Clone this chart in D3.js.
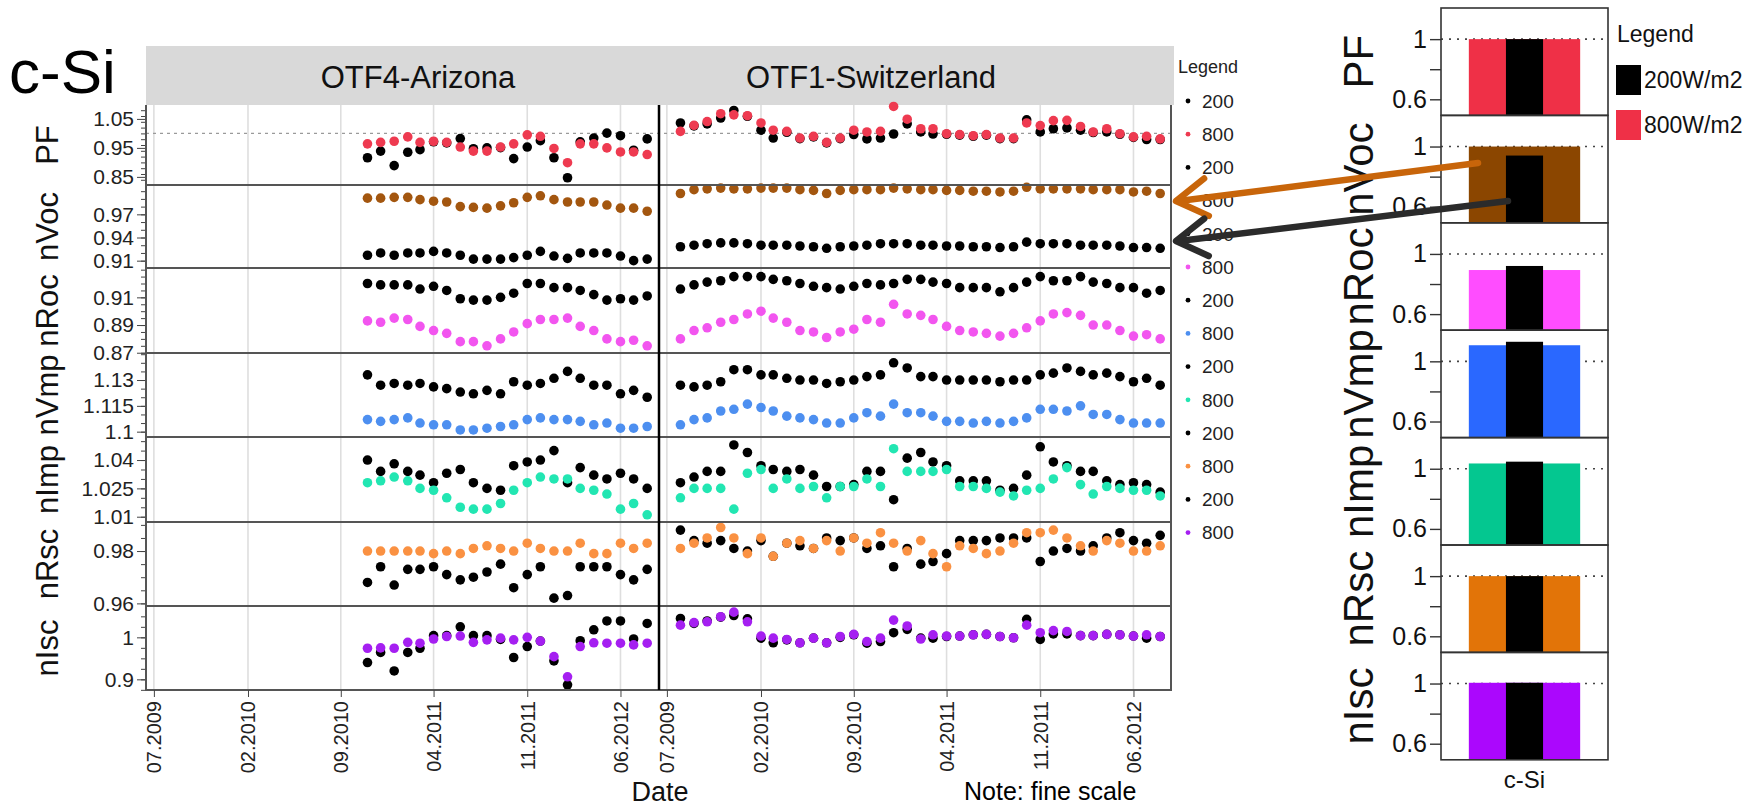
<!DOCTYPE html>
<html>
<head>
<meta charset="utf-8">
<script src="https://cdn.jsdelivr.net/npm/d3@7"></script>
<style>
body { margin: 0; background: #fff; }
text { font-family: "Liberation Sans", Arial, sans-serif; }
</style>
</head>
<body>
<svg id="chart" width="1756" height="808"></svg>
<script>
// ---------- data ----------
var rowNames = ["PF", "nVoc", "nRoc", "nVmp", "nImp", "nRsc", "nIsc"];
var dotColors = ["#ee3a50", "#a3560f", "#f255ef", "#4d8ff0", "#22e6b2", "#fa9142", "#a51ff1"];
var barColors = ["#ef3047", "#8b4600", "#ff4dff", "#2a68ff", "#04c790", "#e27408", "#ab07fd"];
var yDomains = [[0.822, 1.098], [0.9005, 1.008], [0.8698, 0.9312], [1.0969, 1.1457], [1.0072, 1.0522], [0.959, 0.9911], [0.8746, 1.0746]];
var yTicks = [[0.85, 0.95, 1.05], [0.91, 0.94, 0.97], [0.87, 0.89, 0.91], [1.1, 1.115, 1.13], [1.01, 1.025, 1.04], [0.96, 0.98], [0.9, 1]];
var yMinorStep = [0.02, 0.01, 0.005, 0.005, 0.005, 0.005, 0.025];
var sites = ["OTF4-Arizona", "OTF1-Switzerland"];
var dateTicks = ["07.2009", "02.2010", "09.2010", "04.2011", "11.2011", "06.2012"];
var azFirst = "2010-11", azStop = "2012-09";   // monthly points, stop exclusive
var chFirst = "2009-08", chStop = "2012-09";
var legendLabels = ["200", "800", "200", "800", "200", "800", "200", "800", "200", "800", "200", "800", "200", "800"];

var pf200AZ = [0.916,0.939,0.889,0.935,0.944,0.971,0.967,0.982,0.947,0.950,0.951,0.913,0.953,0.975,0.916,0.847,0.971,0.984,1.001,0.992,0.942,0.981];
var pf800AZ = [0.964,0.969,0.973,0.988,0.969,0.973,0.969,0.953,0.939,0.939,0.953,0.964,0.995,0.990,0.948,0.899,0.964,0.964,0.950,0.936,0.936,0.927];
var pf200CH = [1.036,1.026,1.033,1.053,1.079,1.059,1.011,0.984,1.004,0.982,0.988,0.967,0.982,0.996,0.981,0.984,0.998,1.033,1.005,0.998,0.997,0.994,0.990,0.994,0.982,0.982,1.047,1.005,1.016,1.019,1.011,1.003,1.005,0.997,0.986,0.979,0.979];
var pf800CH = [1.007,1.028,1.041,1.068,1.064,1.061,1.036,1.011,1.007,0.984,0.990,0.969,0.984,1.011,1.005,1.007,1.093,1.049,1.016,1.016,0.999,0.996,0.992,0.996,0.984,0.984,1.036,1.027,1.044,1.045,1.024,1.005,1.016,0.999,0.988,0.990,0.981];

var voc200AZ = [0.917,0.920,0.917,0.920,0.920,0.922,0.920,0.917,0.912,0.912,0.912,0.914,0.917,0.922,0.916,0.913,0.920,0.920,0.920,0.916,0.910,0.912];
var voc800AZ = [0.991,0.991,0.992,0.992,0.989,0.987,0.986,0.980,0.979,0.978,0.981,0.985,0.992,0.994,0.989,0.986,0.986,0.986,0.982,0.978,0.978,0.974];
var voc200CH = [0.928,0.930,0.932,0.933,0.933,0.932,0.930,0.930,0.930,0.929,0.928,0.926,0.928,0.929,0.930,0.932,0.932,0.932,0.930,0.930,0.929,0.929,0.928,0.928,0.927,0.928,0.934,0.932,0.932,0.932,0.930,0.930,0.930,0.929,0.927,0.927,0.926];
var voc800CH = [0.997,1.002,1.003,1.004,1.003,1.003,1.004,1.004,1.004,1.002,1.001,0.997,1.001,1.002,1.002,1.002,1.004,1.003,1.002,1.002,1.001,1.001,1.000,1.000,0.999,1.000,1.005,1.003,1.003,1.003,1.003,1.002,1.002,1.002,0.999,1.000,0.997];

var roc200AZ = [0.920,0.919,0.919,0.919,0.916,0.918,0.915,0.909,0.908,0.908,0.910,0.913,0.920,0.920,0.917,0.917,0.915,0.912,0.908,0.909,0.908,0.911];
var roc800AZ = [0.893,0.892,0.895,0.894,0.889,0.886,0.884,0.878,0.878,0.875,0.880,0.885,0.891,0.894,0.894,0.895,0.889,0.886,0.880,0.878,0.879,0.875];
var roc200CH = [0.916,0.919,0.921,0.922,0.925,0.925,0.925,0.923,0.922,0.920,0.918,0.917,0.916,0.918,0.920,0.919,0.920,0.923,0.923,0.921,0.920,0.917,0.917,0.917,0.914,0.917,0.921,0.925,0.922,0.922,0.925,0.921,0.920,0.917,0.917,0.913,0.915];
var roc800CH = [0.880,0.886,0.888,0.892,0.894,0.898,0.900,0.895,0.892,0.886,0.885,0.881,0.885,0.887,0.894,0.892,0.905,0.898,0.897,0.894,0.889,0.886,0.885,0.884,0.882,0.884,0.888,0.893,0.898,0.899,0.897,0.890,0.890,0.886,0.882,0.883,0.880];

var vmp200AZ = [1.133,1.127,1.128,1.127,1.128,1.126,1.125,1.123,1.122,1.124,1.122,1.129,1.127,1.128,1.131,1.135,1.131,1.127,1.127,1.122,1.124,1.120];
var vmp800AZ = [1.107,1.106,1.107,1.108,1.105,1.104,1.104,1.101,1.101,1.102,1.103,1.104,1.107,1.108,1.107,1.107,1.106,1.104,1.105,1.102,1.102,1.103];
var vmp200CH = [1.127,1.126,1.127,1.129,1.136,1.136,1.133,1.133,1.131,1.130,1.130,1.128,1.129,1.130,1.132,1.133,1.140,1.137,1.132,1.132,1.130,1.130,1.130,1.130,1.129,1.130,1.130,1.133,1.134,1.137,1.135,1.133,1.134,1.132,1.129,1.131,1.127];
var vmp800CH = [1.104,1.107,1.108,1.112,1.113,1.116,1.114,1.112,1.109,1.108,1.107,1.105,1.105,1.108,1.111,1.109,1.116,1.111,1.111,1.109,1.106,1.106,1.105,1.106,1.105,1.106,1.108,1.113,1.113,1.112,1.115,1.110,1.110,1.107,1.105,1.105,1.105];

var imp200AZ = [1.040,1.034,1.038,1.034,1.032,1.028,1.033,1.035,1.028,1.025,1.024,1.037,1.039,1.040,1.045,1.028,1.036,1.032,1.030,1.033,1.030,1.025];
var imp800AZ = [1.028,1.029,1.031,1.029,1.025,1.024,1.020,1.015,1.014,1.014,1.017,1.024,1.028,1.031,1.030,1.030,1.025,1.024,1.022,1.014,1.017,1.011];
var imp200CH = [1.028,1.031,1.034,1.034,1.048,1.044,1.037,1.035,1.034,1.035,1.032,1.026,1.026,1.027,1.034,1.034,1.019,1.041,1.044,1.039,1.037,1.029,1.029,1.029,1.024,1.025,1.032,1.047,1.039,1.037,1.034,1.034,1.029,1.027,1.028,1.027,1.023];
var imp800CH = [1.020,1.025,1.025,1.025,1.014,1.033,1.035,1.025,1.030,1.025,1.026,1.020,1.026,1.026,1.030,1.026,1.046,1.034,1.034,1.034,1.035,1.026,1.026,1.025,1.023,1.021,1.024,1.025,1.030,1.036,1.027,1.022,1.026,1.025,1.024,1.024,1.021];

var rsc200AZ = [0.968,0.974,0.967,0.973,0.973,0.974,0.971,0.969,0.970,0.972,0.975,0.966,0.971,0.974,0.962,0.963,0.974,0.974,0.974,0.971,0.969,0.973];
var rsc800AZ = [0.980,0.980,0.980,0.980,0.980,0.979,0.980,0.979,0.981,0.982,0.981,0.980,0.983,0.981,0.980,0.980,0.983,0.979,0.979,0.983,0.981,0.983];
var rsc200CH = [0.988,0.984,0.983,0.984,0.981,0.980,0.984,0.978,0.983,0.982,0.981,0.985,0.984,0.985,0.981,0.982,0.974,0.981,0.975,0.976,0.979,0.984,0.984,0.984,0.985,0.985,0.985,0.976,0.980,0.981,0.980,0.982,0.985,0.987,0.984,0.983,0.986];
var rsc800CH = [0.981,0.983,0.985,0.989,0.985,0.979,0.985,0.978,0.983,0.984,0.981,0.984,0.980,0.985,0.983,0.987,0.983,0.980,0.984,0.979,0.974,0.982,0.981,0.979,0.980,0.983,0.987,0.987,0.988,0.985,0.982,0.980,0.984,0.983,0.980,0.980,0.982];

var isc200AZ = [0.940,0.964,0.920,0.964,0.974,1.004,1.004,1.025,1.004,1.004,0.995,0.952,0.978,0.991,0.944,0.887,0.992,1.018,1.039,1.039,0.996,1.033];
var isc800AZ = [0.974,0.975,0.974,0.988,0.986,0.996,1.002,1.003,0.988,0.994,0.998,0.994,1.000,0.991,0.954,0.906,0.978,0.987,0.986,0.986,0.982,0.986];
var isc200CH = [1.045,1.033,1.039,1.048,1.052,1.044,0.998,0.987,0.994,0.987,0.998,0.987,1.000,1.006,0.986,0.990,1.011,1.019,0.998,0.998,1.002,1.003,1.006,1.007,1.002,0.999,1.043,0.995,1.008,1.008,1.004,1.004,1.007,1.006,1.003,0.998,1.002];
var isc800CH = [1.029,1.035,1.037,1.049,1.060,1.037,1.003,0.998,0.995,0.987,0.998,0.987,1.002,1.007,0.990,0.998,1.041,1.027,0.996,1.006,1.003,1.003,1.006,1.007,1.002,0.999,1.029,1.011,1.016,1.014,1.004,1.004,1.007,1.006,1.003,1.006,1.002];

// right-hand bar chart (c-Si)
var barCategory = ["c-Si"];
var bar200 = [1.0, 0.94, 0.92, 1.13, 1.047, 1.0, 1.005];
var bar800 = [1.0, 1.0, 0.893, 1.107, 1.035, 1.0, 1.005];
var barDomain = [0.493, 1.207];
var barTicks = [0.6, 1];
var barMinor = [0.8];
var barLegend = ["200W/m2", "800W/m2"];

var black200 = { AZ: [pf200AZ, voc200AZ, roc200AZ, vmp200AZ, imp200AZ, rsc200AZ, isc200AZ],
                 CH: [pf200CH, voc200CH, roc200CH, vmp200CH, imp200CH, rsc200CH, isc200CH] };
var col800 = { AZ: [pf800AZ, voc800AZ, roc800AZ, vmp800AZ, imp800AZ, rsc800AZ, isc800AZ],
               CH: [pf800CH, voc800CH, roc800CH, vmp800CH, imp800CH, rsc800CH, isc800CH] };

// ---------- layout ----------
var svg = d3.select("#chart");
var left = 146, mid = 659, right = 1171;
var rowEdges = [105, 185, 268, 353, 437, 522, 606, 690];
var top0 = rowEdges[0], bottom0 = rowEdges[7];
var panelX = [left, mid];
var parseM = d3.timeParse("%Y-%m");
var parseTick = d3.timeParse("%m.%Y");
var tickDates = dateTicks.map(parseTick);
var dates = {
  AZ: d3.timeMonth.range(parseM(azFirst), parseM(azStop)),
  CH: d3.timeMonth.range(parseM(chFirst), parseM(chStop))
};
var x = d3.scaleTime()
  .domain([new Date(2009, 5, 13), new Date(2012, 7, 28)])
  .range([0, mid - left]);

// header strip and titles
svg.append("rect").attr("x", left).attr("y", 46).attr("width", 1028).attr("height", top0 - 46).attr("fill", "#d9d9d9");
svg.append("text").text("c-Si").attr("x", 9).attr("y", 93).style("font-size", "62px").attr("fill", "#000");
var titleX = [418, 871];
sites.forEach(function(s, i) {
  svg.append("text").text(s).attr("x", titleX[i]).attr("y", 88)
    .attr("text-anchor", "middle").style("font-size", "31px").attr("fill", "#111");
});

// vertical grid lines
panelX.forEach(function(px) {
  svg.append("g").selectAll("line").data(tickDates).enter().append("line")
    .attr("x1", function(d) { return px + x(d); })
    .attr("x2", function(d) { return px + x(d); })
    .attr("y1", top0).attr("y2", bottom0)
    .attr("stroke", "#dedede").attr("stroke-width", 1.6);
});

// rows
rowNames.forEach(function(name, r) {
  var y = d3.scaleLinear().domain(yDomains[r]).range([rowEdges[r + 1], rowEdges[r]]);
  var cy = (rowEdges[r] + rowEdges[r + 1]) / 2;

  var minorVals = d3.range(Math.ceil(yDomains[r][0] / yMinorStep[r]) * yMinorStep[r], yDomains[r][1], yMinorStep[r]);
  var gMinor = svg.append("g").attr("transform", "translate(" + left + ",0)")
    .call(d3.axisLeft(y).tickValues(minorVals).tickSize(5).tickFormat(""));
  gMinor.select(".domain").remove();
  gMinor.selectAll("line").attr("stroke", "#444");

  var gAxis = svg.append("g").attr("transform", "translate(" + left + ",0)")
    .call(d3.axisLeft(y).tickValues(yTicks[r]).tickSize(9).tickPadding(3).tickFormat(function(d) { return String(d); }));
  gAxis.select(".domain").remove();
  gAxis.selectAll("line").attr("stroke", "#444");
  gAxis.selectAll("text").style("font-size", "21px").attr("fill", "#222")
    .style("font-family", "'Liberation Sans', Arial, sans-serif");

  svg.append("text").text(name)
    .attr("transform", "translate(58," + cy + ") rotate(-90)")
    .attr("text-anchor", "middle").style("font-size", "31px").attr("fill", "#111");

  if (name === "PF") {
    svg.append("line").attr("x1", left).attr("x2", right)
      .attr("y1", y(1)).attr("y2", y(1))
      .attr("stroke", "#9a9a9a").attr("stroke-width", 1.3).attr("stroke-dasharray", "3,4");
  }

  ["AZ", "CH"].forEach(function(site, si) {
    var g = svg.append("g").attr("transform", "translate(" + panelX[si] + ",0)");
    var pts200 = dates[site].map(function(d, i) { return { date: d, v: black200[site][r][i] }; });
    var pts800 = dates[site].map(function(d, i) { return { date: d, v: col800[site][r][i] }; });
    g.selectAll("circle.b").data(pts200).enter().append("circle")
      .attr("cx", function(d) { return x(d.date); })
      .attr("cy", function(d) { return y(d.v); })
      .attr("r", 4.8).attr("fill", "#000");
    g.selectAll("circle.c").data(pts800).enter().append("circle")
      .attr("cx", function(d) { return x(d.date); })
      .attr("cy", function(d) { return y(d.v); })
      .attr("r", 4.8).attr("fill", dotColors[r]);
  });
});

// row separators and frame
svg.append("g").selectAll("line").data(rowEdges.slice(1)).enter().append("line")
  .attr("x1", left - 1).attr("x2", right + 1)
  .attr("y1", function(d) { return d; }).attr("y2", function(d) { return d; })
  .attr("stroke", "#555").attr("stroke-width", 2);
svg.append("line").attr("x1", left).attr("x2", left).attr("y1", top0).attr("y2", bottom0)
  .attr("stroke", "#555").attr("stroke-width", 2);
svg.append("line").attr("x1", right).attr("x2", right).attr("y1", top0).attr("y2", bottom0)
  .attr("stroke", "#555").attr("stroke-width", 2);
svg.append("line").attr("x1", mid).attr("x2", mid).attr("y1", top0).attr("y2", bottom0)
  .attr("stroke", "#000").attr("stroke-width", 2.5);

// x axes
panelX.forEach(function(px) {
  var gx = svg.append("g").attr("transform", "translate(" + px + "," + bottom0 + ")")
    .call(d3.axisBottom(x).tickValues(tickDates).tickSize(7).tickFormat(d3.timeFormat("%m.%Y")));
  gx.select(".domain").remove();
  gx.selectAll("line").attr("stroke", "#444");
  gx.selectAll("text")
    .attr("transform", "rotate(-90)")
    .attr("text-anchor", "end")
    .attr("x", -11).attr("y", 0).attr("dy", "0.35em")
    .style("font-size", "20px").attr("fill", "#222")
    .style("font-family", "'Liberation Sans', Arial, sans-serif");
});
svg.append("text").text("Date").attr("x", 660).attr("y", 801)
  .attr("text-anchor", "middle").style("font-size", "27px").attr("fill", "#111");
svg.append("text").text("Note: fine scale").attr("x", 964).attr("y", 800)
  .style("font-size", "25px").attr("fill", "#000");

// scatter legend
svg.append("text").text("Legend").attr("x", 1178).attr("y", 73).style("font-size", "18px").attr("fill", "#222");
var legItems = svg.append("g").selectAll("g").data(legendLabels).enter().append("g")
  .attr("transform", function(d, i) { return "translate(1188," + (101 + i * 33.2) + ")"; });
legItems.append("circle").attr("r", 2.4)
  .attr("fill", function(d, i) { return i % 2 === 0 ? "#000" : dotColors[(i - 1) / 2]; });
legItems.append("text").text(function(d) { return d; })
  .attr("x", 14).attr("dy", "0.36em").style("font-size", "19px").attr("fill", "#222");

// ---------- bar panels ----------
var bLeft = 1441, bRight = 1608, bTop = 8, bH = 107.4;
var xb = d3.scaleBand().domain(barCategory).range([bLeft, bRight]).padding(0.2);
rowNames.forEach(function(name, r) {
  var t = bTop + r * bH;
  var yb = d3.scaleLinear().domain(barDomain).range([t + bH, t]);
  var g = svg.append("g");
  g.append("line").attr("x1", bLeft).attr("x2", bRight).attr("y1", yb(1)).attr("y2", yb(1))
    .attr("stroke", "#444").attr("stroke-width", 1.6).attr("stroke-dasharray", "2,6");
  g.selectAll("rect.c").data(barCategory).enter().append("rect")
    .attr("x", function(d) { return xb(d); })
    .attr("width", xb.bandwidth())
    .attr("y", yb(bar800[r]))
    .attr("height", yb(barDomain[0]) - yb(bar800[r]))
    .attr("fill", barColors[r]);
  g.selectAll("rect.b").data(barCategory).enter().append("rect")
    .attr("x", function(d) { return xb(d) + xb.bandwidth() / 3; })
    .attr("width", xb.bandwidth() / 3)
    .attr("y", yb(bar200[r]))
    .attr("height", yb(barDomain[0]) - yb(bar200[r]))
    .attr("fill", "#000");
  g.append("rect").attr("x", bLeft).attr("y", t).attr("width", bRight - bLeft).attr("height", bH)
    .attr("fill", "none").attr("stroke", "#333").attr("stroke-width", 1.6);
  var ga = g.append("g").attr("transform", "translate(" + bLeft + ",0)")
    .call(d3.axisLeft(yb).tickValues(barTicks.concat(barMinor)).tickSize(11).tickPadding(3)
      .tickFormat(function(d) { return barTicks.indexOf(d) >= 0 ? String(d) : ""; }));
  ga.select(".domain").remove();
  ga.selectAll("line").attr("stroke", "#333").attr("stroke-width", 1.4);
  ga.selectAll("text").style("font-size", "25px").attr("fill", "#111")
    .style("font-family", "'Liberation Sans', Arial, sans-serif");
  g.append("text").text(name)
    .attr("transform", "translate(1373," + (t + bH / 2) + ") rotate(-90)")
    .attr("text-anchor", "middle").style("font-size", "42px").attr("fill", "#111");
});
svg.append("text").text(barCategory[0]).attr("x", xb(barCategory[0]) + xb.bandwidth() / 2).attr("y", 788)
  .attr("text-anchor", "middle").style("font-size", "24px").attr("fill", "#111");

svg.append("text").text("Legend").attr("x", 1617).attr("y", 42).style("font-size", "23px").attr("fill", "#111");
var bl = svg.append("g").selectAll("g").data(barLegend).enter().append("g")
  .attr("transform", function(d, i) { return "translate(1616," + (65 + i * 45) + ")"; });
bl.append("rect").attr("width", 25).attr("height", 30)
  .attr("fill", function(d, i) { return i === 0 ? "#000" : barColors[0]; });
bl.append("text").text(function(d) { return d; }).attr("x", 28).attr("y", 23)
  .style("font-size", "23px").attr("fill", "#111");

// ---------- arrows ----------
function arrow(x1, y1, x2, y2, col) {
  var a = Math.atan2(y1 - y2, x1 - x2), L = 36, s = 0.55;
  var head = [[x2 + L * Math.cos(a + s), y2 + L * Math.sin(a + s)], [x2, y2],
              [x2 + L * Math.cos(a - s), y2 + L * Math.sin(a - s)]];
  svg.append("line").attr("x1", x1).attr("y1", y1).attr("x2", x2 + 3).attr("y2", y2)
    .attr("stroke", col).attr("stroke-width", 6.5).attr("stroke-linecap", "round");
  svg.append("path").attr("d", d3.line()(head)).attr("fill", "none")
    .attr("stroke", col).attr("stroke-width", 6.5)
    .attr("stroke-linejoin", "round").attr("stroke-linecap", "round");
}
arrow(1478, 163, 1176, 201, "#c8650a");
arrow(1508, 201, 1176, 241, "#2b2b2b");
</script>
</body>
</html>
